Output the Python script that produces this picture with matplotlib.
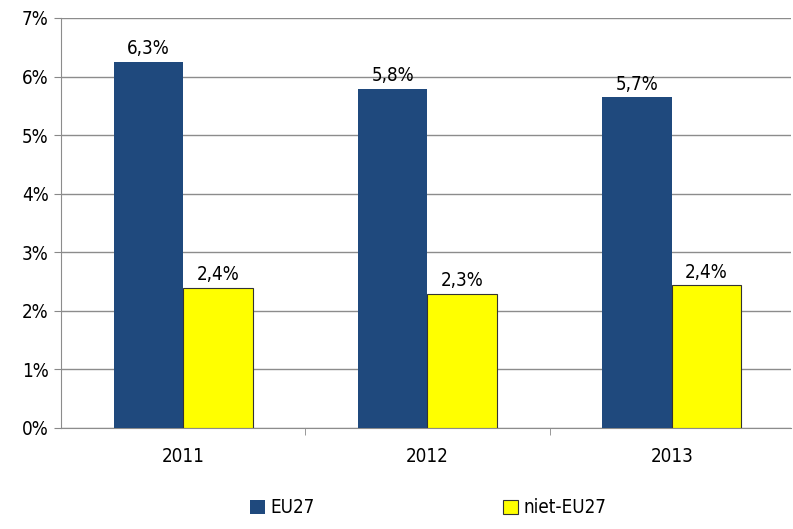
import matplotlib.pyplot as plt
import numpy as np

years = ['2011', '2012', '2013']
eu27 = [6.25, 5.79, 5.65]
niet_eu27 = [2.39, 2.29, 2.44]
eu27_labels = ['6,3%', '5,8%', '5,7%']
niet_labels = ['2,4%', '2,3%', '2,4%']

plt.rcParams['font.family'] = ['DejaVu Sans']
plt.rcParams['font.stretch'] = 'condensed'

fig = plt.figure(figsize=(7.93, 5.29), dpi=100)
ax = fig.add_axes([0.077, 0.191, 0.921, 0.775])

x = np.arange(len(years))
w = 0.285
b1 = ax.bar(x - w / 2, eu27, w, color='#1F497D', label='EU27', zorder=3)
b2 = ax.bar(x + w / 2, niet_eu27, w, color='#FFFF00', edgecolor='#333333',
            linewidth=0.8, label='niet-EU27', zorder=3)

for bars, labels in [(b1, eu27_labels), (b2, niet_labels)]:
    for bar, lab in zip(bars, labels):
        ax.text(bar.get_x() + bar.get_width() / 2, bar.get_height() + 0.06, lab,
                ha='center', va='bottom', fontsize=13.5)

ax.set_ylim(0, 7)
ax.set_yticks(range(8))
ax.set_yticklabels([f'{i}%' for i in range(8)], fontsize=13.5)
ax.set_xlim(-0.5, 2.49)
ax.set_xticks(x)
ax.set_xticklabels(years, fontsize=13.5)
ax.set_xticks([0.5, 1.5], minor=True)
ax.tick_params(axis='x', which='major', length=0, pad=14)
ax.tick_params(axis='x', which='minor', length=5, color='#888888')
ax.tick_params(axis='y', length=5, color='#888888', pad=4)

ax.grid(axis='y', color='#8c8c8c', linewidth=1, zorder=0)
for s in ['top', 'right']:
    ax.spines[s].set_visible(False)
ax.spines['left'].set_color('#8c8c8c')
ax.spines['bottom'].set_color('#8c8c8c')

fig.legend(loc='lower center', bbox_to_anchor=(0.54, -0.01), ncol=2, frameon=False,
           fontsize=13.5, handlelength=0.8, handleheight=0.8, handletextpad=0.3,
           columnspacing=10)

fig.savefig('out.png', dpi=100)
